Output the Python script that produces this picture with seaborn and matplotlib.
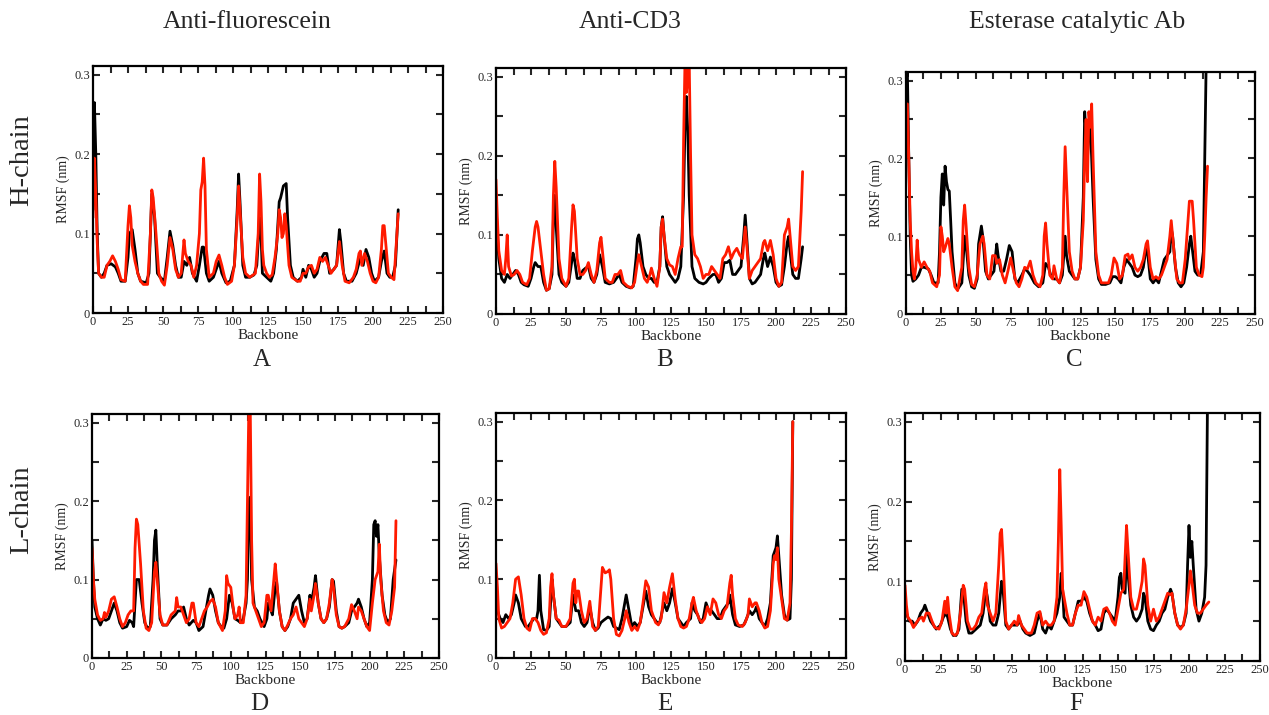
import numpy as np
import pandas as pd
import matplotlib
matplotlib.use("Agg")
import matplotlib.pyplot as plt
from matplotlib.ticker import MultipleLocator
import seaborn as sns

# ---------------- data: (residue, RMSF nm) ----------------
col_titles = ["Anti-fluorescein", "Anti-CD3", "Esterase catalytic Ab"]
row_titles = ["H-chain", "L-chain"]
panel_letters = ["A", "B", "C", "D", "E", "F"]

a_black = [(0,0.13),(1,0.265),(2,0.2),(3,0.1),(4,0.05),(6,0.045),(8,0.05),(10,0.06),(13,0.062),(16,0.058),(18,0.05),(20,0.04),(23,0.04),(25,0.07),(26,0.1),(28,0.105),(30,0.08),(32,0.05),(34,0.04),(38,0.038),(40,0.05),(42,0.15),(44,0.12),(46,0.05),(48,0.045),(51,0.04),(53,0.07),(55,0.103),(57,0.085),(59,0.06),(61,0.045),(63,0.045),(65,0.065),(67,0.06),(69,0.07),(71,0.05),(74,0.04),(76,0.06),(78,0.083),(79,0.083),(81,0.05),(83,0.04),(86,0.045),(88,0.055),(90,0.065),(92,0.05),(95,0.038),(98,0.04),(101,0.06),(103,0.13),(104,0.175),(105,0.14),(107,0.06),(109,0.045),(112,0.045),(115,0.048),(117,0.06),(119,0.12),(120,0.1),(121,0.05),(124,0.045),(127,0.04),(129,0.05),(131,0.08),(133,0.14),(134,0.145),(136,0.16),(138,0.163),(139,0.12),(141,0.06),(143,0.045),(146,0.04),(149,0.045),(150,0.055),(152,0.045),(154,0.06),(156,0.055),(158,0.045),(160,0.05),(162,0.065),(165,0.075),(167,0.075),(169,0.05),(172,0.055),(174,0.06),(176,0.105),(177,0.09),(179,0.05),(181,0.04),(185,0.04),(188,0.05),(191,0.07),(193,0.06),(195,0.08),(197,0.07),(199,0.05),(201,0.04),(204,0.045),(206,0.065),(208,0.078),(210,0.05),(212,0.045),(214,0.045),(216,0.06),(218,0.13)]
a_red = [(0,0.12),(1,0.195),(2,0.15),(3,0.09),(4,0.05),(6,0.045),(8,0.045),(10,0.06),(12,0.065),(14,0.072),(16,0.065),(18,0.055),(20,0.042),(23,0.04),(25,0.11),(26,0.135),(27,0.12),(28,0.085),(30,0.065),(32,0.05),(34,0.04),(36,0.036),(39,0.036),(41,0.1),(42,0.155),(43,0.145),(45,0.1),(47,0.05),(49,0.04),(51,0.035),(53,0.06),(55,0.095),(57,0.08),(59,0.055),(61,0.045),(63,0.05),(65,0.092),(66,0.075),(68,0.065),(70,0.06),(72,0.045),(74,0.06),(76,0.1),(77,0.155),(78,0.165),(79,0.195),(80,0.16),(81,0.08),(83,0.045),(86,0.05),(88,0.065),(90,0.073),(92,0.06),(94,0.045),(96,0.036),(99,0.04),(101,0.06),(103,0.12),(104,0.16),(105,0.13),(107,0.07),(109,0.05),(112,0.045),(116,0.05),(118,0.1),(119,0.175),(120,0.14),(121,0.08),(122,0.06),(124,0.05),(126,0.045),(128,0.048),(130,0.07),(132,0.1),(133,0.13),(134,0.12),(135,0.095),(136,0.1),(137,0.125),(138,0.11),(140,0.06),(142,0.045),(146,0.04),(148,0.04),(150,0.05),(152,0.05),(154,0.058),(156,0.06),(158,0.05),(160,0.055),(162,0.07),(164,0.065),(166,0.07),(168,0.06),(170,0.05),(172,0.055),(174,0.06),(176,0.09),(178,0.06),(180,0.04),(183,0.038),(186,0.045),(188,0.055),(190,0.075),(191,0.078),(192,0.06),(194,0.075),(196,0.065),(198,0.05),(200,0.04),(202,0.038),(204,0.045),(206,0.08),(207,0.11),(208,0.11),(209,0.09),(211,0.05),(213,0.045),(215,0.042),(216,0.07),(218,0.125)]

b_black = [(0,0.14),(1,0.1),(2,0.07),(4,0.045),(6,0.04),(8,0.05),(10,0.045),(12,0.05),(14,0.055),(16,0.05),(18,0.04),(20,0.037),(23,0.035),(25,0.045),(27,0.06),(28,0.065),(30,0.06),(32,0.06),(34,0.04),(36,0.03),(38,0.032),(40,0.05),(41,0.12),(42,0.15),(43,0.11),(45,0.05),(47,0.04),(50,0.035),(52,0.04),(54,0.065),(55,0.077),(56,0.07),(58,0.045),(60,0.045),(62,0.055),(64,0.058),(66,0.06),(68,0.045),(70,0.04),(72,0.05),(74,0.075),(76,0.06),(78,0.04),(81,0.038),(84,0.04),(86,0.045),(88,0.05),(90,0.04),(93,0.035),(96,0.033),(98,0.035),(100,0.07),(101,0.095),(102,0.1),(103,0.09),(105,0.06),(107,0.05),(109,0.045),(111,0.045),(113,0.04),(115,0.04),(117,0.06),(118,0.11),(119,0.123),(120,0.1),(122,0.06),(124,0.05),(126,0.045),(128,0.04),(130,0.045),(132,0.06),(134,0.15),(135,0.24),(136,0.275),(137,0.23),(138,0.15),(140,0.06),(142,0.045),(145,0.04),(148,0.038),(150,0.04),(152,0.045),(155,0.05),(157,0.05),(159,0.04),(161,0.045),(163,0.065),(165,0.065),(167,0.068),(169,0.05),(171,0.05),(173,0.055),(175,0.06),(177,0.1),(178,0.125),(179,0.1),(181,0.045),(183,0.038),(185,0.04),(187,0.045),(189,0.05),(191,0.07),(192,0.077),(194,0.06),(196,0.072),(198,0.06),(200,0.04),(202,0.035),(204,0.037),(206,0.06),(208,0.09),(209,0.098),(210,0.08),(212,0.05),(214,0.045),(216,0.045),(218,0.07),(219,0.085)]
b_red = [(0,0.17),(1,0.12),(2,0.08),(4,0.055),(6,0.05),(7,0.07),(8,0.1),(9,0.06),(11,0.048),(13,0.05),(15,0.055),(17,0.05),(19,0.04),(22,0.037),(24,0.045),(26,0.08),(28,0.11),(29,0.117),(30,0.11),(32,0.08),(34,0.05),(36,0.03),(38,0.032),(40,0.06),(41,0.15),(42,0.193),(43,0.16),(45,0.07),(47,0.045),(50,0.035),(52,0.045),(54,0.11),(55,0.138),(56,0.13),(58,0.07),(60,0.05),(62,0.05),(64,0.055),(66,0.065),(68,0.05),(70,0.04),(72,0.055),(74,0.09),(75,0.097),(76,0.08),(78,0.045),(81,0.04),(83,0.04),(85,0.05),(87,0.05),(89,0.055),(91,0.04),(94,0.035),(97,0.033),(99,0.04),(101,0.065),(102,0.075),(104,0.06),(106,0.045),(108,0.04),(110,0.05),(111,0.058),(113,0.045),(115,0.035),(117,0.06),(118,0.11),(119,0.12),(120,0.1),(122,0.07),(124,0.062),(126,0.06),(128,0.05),(130,0.07),(132,0.085),(133,0.085),(134,0.22),(135,0.32),(136,0.28),(137,0.3),(138,0.32),(139,0.2),(140,0.1),(142,0.075),(144,0.07),(146,0.06),(148,0.045),(150,0.05),(152,0.05),(154,0.06),(156,0.055),(158,0.05),(160,0.045),(162,0.07),(164,0.075),(166,0.085),(168,0.07),(170,0.078),(172,0.083),(174,0.075),(176,0.07),(177,0.09),(178,0.11),(179,0.09),(181,0.045),(183,0.055),(185,0.06),(187,0.065),(189,0.07),(191,0.09),(192,0.093),(194,0.08),(196,0.093),(198,0.075),(200,0.045),(202,0.035),(204,0.04),(206,0.1),(208,0.11),(209,0.12),(210,0.1),(212,0.06),(214,0.055),(216,0.06),(218,0.13),(219,0.18)]

c_black = [(0,0.3),(1,0.31),(2,0.2),(3,0.1),(4,0.05),(5,0.042),(7,0.045),(9,0.05),(11,0.06),(13,0.06),(16,0.058),(18,0.05),(20,0.04),(23,0.04),(24,0.08),(25,0.15),(26,0.18),(27,0.14),(28,0.19),(29,0.17),(30,0.16),(31,0.158),(32,0.12),(33,0.08),(35,0.04),(37,0.032),(40,0.04),(42,0.1),(43,0.09),(45,0.05),(47,0.035),(49,0.033),(51,0.045),(52,0.09),(54,0.113),(55,0.1),(57,0.055),(59,0.045),(61,0.05),(63,0.055),(65,0.09),(66,0.075),(68,0.055),(70,0.055),(72,0.07),(74,0.088),(76,0.08),(78,0.045),(80,0.04),(83,0.05),(85,0.058),(87,0.055),(89,0.05),(92,0.04),(95,0.035),(98,0.04),(100,0.065),(102,0.06),(104,0.048),(106,0.045),(108,0.045),(110,0.04),(112,0.05),(114,0.1),(115,0.075),(117,0.055),(119,0.05),(121,0.045),(123,0.045),(125,0.06),(127,0.15),(128,0.26),(129,0.23),(130,0.2),(131,0.24),(132,0.245),(133,0.2),(134,0.15),(136,0.07),(138,0.045),(140,0.038),(143,0.038),(146,0.04),(148,0.048),(150,0.048),(152,0.045),(154,0.04),(156,0.06),(158,0.07),(160,0.065),(162,0.06),(164,0.05),(166,0.048),(168,0.05),(170,0.06),(172,0.085),(173,0.08),(175,0.045),(177,0.04),(179,0.045),(181,0.04),(183,0.055),(185,0.07),(187,0.075),(189,0.08),(190,0.11),(191,0.1),(193,0.06),(195,0.04),(197,0.035),(199,0.04),(201,0.06),(203,0.09),(204,0.1),(205,0.085),(207,0.055),(209,0.05),(211,0.05),(213,0.08),(214,0.2),(215,0.32)]
c_red = [(0,0.2),(1,0.27),(2,0.2),(3,0.12),(4,0.08),(5,0.055),(6,0.045),(7,0.06),(8,0.095),(9,0.07),(11,0.06),(13,0.067),(15,0.06),(17,0.055),(19,0.04),(22,0.035),(24,0.05),(25,0.112),(26,0.1),(27,0.08),(28,0.085),(30,0.097),(31,0.09),(33,0.06),(35,0.035),(37,0.03),(40,0.06),(41,0.12),(42,0.14),(43,0.115),(45,0.06),(47,0.038),(49,0.035),(51,0.05),(53,0.09),(55,0.1),(56,0.09),(58,0.05),(60,0.045),(62,0.075),(64,0.075),(65,0.065),(67,0.07),(69,0.05),(71,0.04),(73,0.055),(75,0.072),(77,0.055),(79,0.04),(81,0.035),(83,0.045),(85,0.06),(87,0.058),(89,0.068),(91,0.05),(93,0.04),(96,0.035),(98,0.05),(99,0.1),(100,0.117),(101,0.09),(103,0.05),(105,0.045),(106,0.062),(108,0.045),(110,0.04),(112,0.06),(113,0.15),(114,0.215),(115,0.17),(117,0.08),(119,0.055),(121,0.045),(123,0.045),(125,0.06),(127,0.12),(128,0.2),(129,0.25),(130,0.17),(131,0.26),(132,0.24),(133,0.27),(134,0.2),(136,0.08),(138,0.05),(140,0.04),(143,0.04),(145,0.04),(147,0.05),(149,0.072),(151,0.065),(153,0.045),(155,0.05),(157,0.075),(159,0.077),(160,0.07),(162,0.076),(164,0.06),(166,0.055),(168,0.06),(170,0.07),(172,0.09),(173,0.094),(175,0.06),(177,0.045),(179,0.048),(181,0.045),(183,0.05),(185,0.06),(187,0.07),(189,0.1),(190,0.12),(192,0.08),(194,0.045),(196,0.04),(198,0.04),(200,0.07),(202,0.12),(203,0.145),(205,0.145),(206,0.12),(208,0.06),(210,0.05),(212,0.048),(213,0.06),(214,0.1),(215,0.15),(216,0.19)]

d_black = [(0,0.15),(1,0.1),(2,0.065),(4,0.05),(6,0.042),(8,0.05),(10,0.048),(12,0.05),(14,0.06),(16,0.07),(18,0.06),(20,0.045),(22,0.038),(25,0.04),(27,0.048),(29,0.045),(30,0.04),(32,0.1),(34,0.1),(36,0.07),(38,0.045),(40,0.038),(42,0.04),(44,0.1),(45,0.15),(46,0.163),(47,0.12),(49,0.05),(51,0.042),(54,0.042),(57,0.05),(60,0.055),(62,0.06),(64,0.06),(66,0.065),(68,0.05),(70,0.042),(73,0.048),(75,0.045),(77,0.035),(80,0.04),(82,0.06),(84,0.08),(85,0.088),(87,0.08),(89,0.06),(91,0.045),(93,0.04),(95,0.038),(97,0.05),(99,0.08),(101,0.07),(103,0.05),(105,0.048),(107,0.045),(109,0.05),(111,0.07),(112,0.1),(113,0.2),(114,0.205),(115,0.1),(117,0.065),(119,0.06),(121,0.05),(124,0.04),(126,0.05),(127,0.07),(129,0.06),(130,0.055),(132,0.09),(133,0.097),(135,0.06),(137,0.04),(139,0.035),(141,0.04),(143,0.05),(145,0.07),(147,0.075),(149,0.08),(151,0.06),(153,0.045),(155,0.05),(157,0.08),(158,0.07),(160,0.09),(161,0.105),(163,0.07),(165,0.05),(167,0.045),(169,0.05),(171,0.065),(173,0.1),(174,0.098),(176,0.06),(178,0.04),(180,0.038),(182,0.04),(185,0.045),(187,0.06),(189,0.065),(191,0.07),(192,0.075),(194,0.065),(196,0.05),(198,0.04),(200,0.045),(202,0.1),(203,0.17),(204,0.175),(205,0.155),(206,0.17),(207,0.13),(209,0.08),(211,0.055),(213,0.045),(215,0.05),(217,0.1),(219,0.125)]
d_red = [(0,0.14),(1,0.1),(2,0.075),(4,0.055),(6,0.048),(8,0.05),(9,0.058),(10,0.052),(12,0.06),(14,0.075),(16,0.078),(18,0.065),(20,0.05),(22,0.04),(24,0.045),(26,0.055),(28,0.06),(30,0.06),(31,0.14),(32,0.177),(33,0.17),(35,0.12),(37,0.06),(39,0.038),(41,0.035),(43,0.045),(45,0.11),(46,0.122),(47,0.1),(49,0.055),(51,0.042),(54,0.042),(57,0.055),(60,0.06),(61,0.077),(62,0.065),(64,0.065),(66,0.055),(68,0.045),(70,0.05),(72,0.07),(73,0.07),(75,0.045),(77,0.04),(79,0.05),(81,0.06),(83,0.065),(85,0.072),(87,0.075),(89,0.065),(91,0.045),(94,0.035),(96,0.06),(97,0.105),(98,0.095),(100,0.09),(102,0.06),(103,0.05),(105,0.055),(106,0.065),(107,0.045),(109,0.045),(111,0.08),(112,0.2),(113,0.32),(114,0.32),(115,0.15),(116,0.07),(118,0.06),(120,0.05),(122,0.04),(124,0.045),(126,0.08),(127,0.08),(129,0.06),(131,0.1),(132,0.12),(133,0.1),(135,0.06),(137,0.04),(139,0.035),(141,0.042),(143,0.05),(145,0.055),(147,0.065),(149,0.05),(151,0.045),(153,0.04),(155,0.05),(157,0.075),(158,0.06),(160,0.08),(161,0.095),(163,0.07),(165,0.05),(167,0.045),(169,0.05),(171,0.07),(173,0.1),(174,0.09),(176,0.055),(178,0.04),(180,0.038),(182,0.04),(185,0.05),(187,0.068),(189,0.06),(191,0.05),(192,0.065),(194,0.06),(196,0.05),(198,0.04),(200,0.035),(202,0.07),(204,0.1),(206,0.11),(207,0.145),(208,0.1),(210,0.06),(212,0.045),(214,0.042),(216,0.06),(218,0.09),(219,0.175)]

e_black = [(0,0.1),(1,0.06),(3,0.05),(5,0.045),(7,0.055),(9,0.05),(11,0.055),(13,0.07),(14,0.08),(16,0.07),(18,0.05),(21,0.04),(23,0.04),(25,0.045),(27,0.05),(29,0.05),(30,0.06),(31,0.105),(32,0.06),(34,0.036),(36,0.035),(38,0.04),(40,0.1),(41,0.08),(43,0.05),(45,0.045),(47,0.04),(50,0.04),(53,0.045),(55,0.08),(56,0.07),(57,0.06),(59,0.06),(61,0.045),(63,0.04),(65,0.045),(67,0.065),(69,0.045),(71,0.035),(73,0.038),(75,0.045),(77,0.048),(80,0.052),(82,0.05),(84,0.04),(86,0.038),(88,0.036),(90,0.05),(92,0.07),(93,0.08),(95,0.06),(97,0.04),(99,0.045),(101,0.04),(103,0.045),(105,0.065),(107,0.085),(109,0.065),(111,0.055),(113,0.05),(115,0.045),(117,0.045),(120,0.07),(122,0.06),(124,0.07),(126,0.088),(128,0.07),(130,0.05),(132,0.045),(134,0.04),(136,0.045),(139,0.05),(140,0.07),(142,0.06),(144,0.055),(146,0.045),(148,0.05),(150,0.07),(152,0.06),(154,0.06),(156,0.055),(158,0.05),(160,0.05),(162,0.06),(164,0.065),(166,0.07),(167,0.08),(169,0.055),(171,0.042),(174,0.04),(177,0.042),(179,0.05),(181,0.06),(183,0.055),(185,0.06),(186,0.065),(188,0.05),(190,0.045),(192,0.04),(194,0.05),(196,0.07),(198,0.13),(200,0.14),(201,0.155),(202,0.13),(204,0.08),(206,0.055),(208,0.048),(210,0.05),(211,0.1),(212,0.3)]
e_red = [(0,0.12),(1,0.09),(2,0.05),(4,0.038),(6,0.04),(8,0.045),(10,0.05),(12,0.07),(14,0.1),(16,0.103),(18,0.08),(20,0.05),(22,0.038),(24,0.035),(26,0.05),(28,0.05),(30,0.045),(32,0.035),(34,0.03),(36,0.032),(38,0.05),(39,0.09),(40,0.107),(41,0.08),(43,0.05),(45,0.048),(47,0.04),(50,0.04),(53,0.05),(55,0.095),(56,0.1),(57,0.07),(58,0.085),(59,0.085),(61,0.06),(63,0.045),(65,0.05),(67,0.072),(69,0.04),(71,0.035),(73,0.04),(75,0.09),(76,0.115),(78,0.108),(80,0.11),(81,0.112),(82,0.1),(84,0.05),(86,0.03),(88,0.028),(90,0.035),(92,0.05),(93,0.06),(95,0.045),(97,0.035),(99,0.04),(101,0.035),(103,0.045),(105,0.07),(107,0.098),(109,0.09),(111,0.06),(114,0.045),(116,0.042),(118,0.05),(120,0.083),(122,0.07),(124,0.09),(126,0.107),(128,0.075),(130,0.05),(132,0.04),(134,0.038),(136,0.04),(138,0.05),(140,0.07),(141,0.077),(143,0.06),(145,0.05),(147,0.045),(149,0.05),(151,0.065),(153,0.055),(155,0.075),(157,0.07),(159,0.055),(161,0.05),(163,0.06),(165,0.065),(167,0.095),(168,0.105),(169,0.08),(171,0.05),(173,0.042),(176,0.04),(178,0.045),(180,0.055),(181,0.075),(183,0.065),(185,0.07),(186,0.07),(188,0.06),(190,0.045),(192,0.038),(194,0.04),(196,0.06),(198,0.12),(199,0.13),(200,0.125),(201,0.14),(202,0.1),(204,0.075),(206,0.05),(208,0.048),(210,0.07),(211,0.16),(212,0.3)]

f_black = [(0,0.07),(1,0.06),(3,0.05),(5,0.05),(7,0.045),(9,0.05),(11,0.06),(13,0.065),(14,0.07),(16,0.06),(18,0.05),(20,0.045),(22,0.04),(25,0.045),(27,0.055),(29,0.06),(30,0.055),(32,0.04),(34,0.032),(36,0.032),(38,0.04),(40,0.09),(41,0.09),(43,0.05),(45,0.035),(47,0.035),(50,0.04),(53,0.045),(55,0.06),(57,0.09),(58,0.08),(60,0.05),(62,0.045),(64,0.045),(66,0.06),(68,0.1),(69,0.09),(71,0.045),(73,0.04),(75,0.045),(77,0.045),(79,0.045),(81,0.05),(83,0.04),(85,0.035),(88,0.032),(91,0.035),(93,0.05),(95,0.06),(97,0.04),(99,0.035),(101,0.045),(103,0.04),(105,0.05),(107,0.06),(109,0.08),(110,0.11),(111,0.09),(112,0.055),(114,0.05),(116,0.045),(118,0.045),(120,0.06),(122,0.075),(124,0.075),(126,0.08),(128,0.075),(130,0.06),(132,0.05),(134,0.045),(136,0.038),(138,0.04),(140,0.06),(142,0.065),(144,0.06),(146,0.055),(148,0.05),(150,0.08),(151,0.105),(152,0.11),(153,0.09),(155,0.085),(156,0.14),(157,0.11),(159,0.07),(161,0.055),(163,0.05),(165,0.055),(167,0.065),(168,0.085),(169,0.08),(171,0.05),(173,0.04),(175,0.038),(177,0.045),(179,0.05),(181,0.06),(183,0.065),(185,0.08),(187,0.09),(188,0.085),(190,0.06),(192,0.045),(194,0.042),(196,0.045),(198,0.06),(199,0.12),(200,0.17),(201,0.13),(202,0.15),(203,0.12),(205,0.065),(207,0.05),(209,0.06),(211,0.08),(212,0.12),(213,0.32)]
f_red = [(0,0.095),(1,0.07),(2,0.055),(4,0.05),(6,0.042),(8,0.048),(10,0.053),(12,0.055),(13,0.05),(15,0.06),(17,0.06),(19,0.05),(21,0.042),(24,0.04),(26,0.05),(28,0.075),(29,0.06),(30,0.08),(31,0.06),(33,0.035),(35,0.032),(37,0.035),(39,0.06),(41,0.095),(42,0.09),(44,0.05),(46,0.04),(48,0.04),(50,0.045),(52,0.055),(54,0.06),(56,0.09),(57,0.098),(58,0.07),(60,0.06),(62,0.05),(64,0.06),(66,0.12),(67,0.16),(68,0.165),(69,0.13),(71,0.05),(73,0.04),(75,0.045),(77,0.05),(79,0.045),(80,0.057),(82,0.045),(84,0.04),(86,0.035),(89,0.035),(91,0.045),(93,0.06),(95,0.062),(97,0.045),(99,0.05),(101,0.045),(103,0.045),(105,0.05),(107,0.08),(108,0.15),(109,0.24),(110,0.17),(111,0.09),(112,0.08),(114,0.06),(116,0.045),(118,0.045),(120,0.06),(122,0.07),(124,0.07),(126,0.087),(128,0.08),(130,0.065),(132,0.05),(134,0.045),(136,0.055),(138,0.05),(140,0.065),(142,0.067),(144,0.06),(146,0.05),(148,0.045),(150,0.065),(152,0.085),(154,0.09),(155,0.13),(156,0.17),(157,0.14),(159,0.08),(161,0.065),(163,0.065),(165,0.08),(167,0.1),(168,0.128),(169,0.12),(171,0.07),(173,0.05),(175,0.065),(177,0.05),(179,0.055),(181,0.065),(183,0.075),(185,0.085),(187,0.083),(188,0.085),(190,0.06),(192,0.045),(194,0.04),(196,0.045),(198,0.065),(200,0.095),(201,0.113),(202,0.1),(204,0.07),(206,0.06),(208,0.06),(210,0.065),(212,0.07),(214,0.074)]

panels = [(a_black, a_red), (b_black, b_red), (c_black, c_red),
          (d_black, d_red), (e_black, e_red), (f_black, f_red)]

# ---------------- style ----------------
sns.set_style("ticks")
plt.rcParams["font.family"] = ["Liberation Serif", "DejaVu Serif"]
plt.rcParams["mathtext.fontset"] = "stix"

W, H = 1269, 715
fig = plt.figure(figsize=(W / 100, H / 100), dpi=100)

# axes boxes in pixels: left, top, right, bottom
boxes = [(93, 66, 443, 313), (496, 68, 846, 314), (906, 72, 1255, 314),
         (92, 414, 439, 658), (496, 413, 846, 658), (905, 413, 1260, 661)]

for i, ((blk, red), (l, t, r, b)) in enumerate(zip(panels, boxes)):
    ax = fig.add_axes([l / W, 1 - b / H, (r - l) / W, (b - t) / H])
    frames = []
    for name, pts in (("black", blk), ("red", red)):
        arr = np.array(pts)
        frames.append(pd.DataFrame({"res": arr[:, 0], "rmsf": arr[:, 1], "run": name}))
    df = pd.concat(frames, ignore_index=True)
    sns.lineplot(data=df, x="res", y="rmsf", hue="run",
                 palette={"black": "#000000", "red": "#ff1a00"},
                 linewidth=2.0, legend=False, ax=ax, estimator=None, sort=False)
    ax.set_xlim(0, 250)
    ax.set_ylim(0, 0.311)
    ax.xaxis.set_major_locator(MultipleLocator(25))
    ax.xaxis.set_minor_locator(MultipleLocator(12.5))
    ax.yaxis.set_major_locator(MultipleLocator(0.1))
    ax.yaxis.set_minor_locator(MultipleLocator(0.05))
    ax.yaxis.set_major_formatter(matplotlib.ticker.FuncFormatter(
        lambda v, p: "0" if abs(v) < 1e-9 else f"{v:.1f}"))
    ax.tick_params(which="both", direction="in", length=5, width=1.5,
                   top=True, right=True, labelsize=9, pad=2)
    for s in ax.spines.values():
        s.set_linewidth(1.6)
        s.set_color("black")
    ax.set_xlabel("Backbone", fontsize=11, labelpad=1)
    ax.set_ylabel("RMSF (nm)", fontsize=10, labelpad=3)
    ly = 360 if i < 3 else 704
    fig.text((l + r) / 2 / W - 0.005, 1 - ly / H, panel_letters[i],
             ha="center", va="center", fontsize=18)

# column titles
for x, t in zip([247, 630, 1077], col_titles):
    fig.text(x / W, 1 - 22 / H, t, ha="center", va="center", fontsize=18.5)
# row titles
for y, t in zip([160, 510], row_titles):
    fig.text(22 / W, 1 - y / H, t, ha="center", va="center", rotation=90, fontsize=20.5)

fig.savefig("out.png", dpi=100)
